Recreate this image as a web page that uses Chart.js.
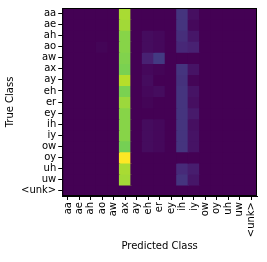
<!DOCTYPE html>
<html>
<head>
<meta charset="utf-8">
<script src="https://cdn.jsdelivr.net/npm/chart.js@4"></script>
<style>
  html, body { margin: 0; padding: 0; background: #fff; }
  #wrap { width: 267px; height: 262px; }
</style>
</head>
<body>
<div id="wrap"><canvas id="chart"></canvas></div>
<script>
const classes = ["aa", "ae", "ah", "ao", "aw", "ax", "ay", "eh", "er", "ey", "ih", "iy", "ow", "oy", "uh", "uw", "<unk>"];

// row-normalised confusion values, one array per true class (columns = predicted class)
const rowAa  = [0, 0, 0, 0, 0, 0.87, 0, 0, 0, 0, 0.15, 0.04, 0, 0, 0, 0, 0];
const rowAe  = [0, 0, 0, 0, 0, 0.86, 0, 0, 0, 0, 0.15, 0.02, 0, 0, 0, 0, 0];
const rowAh  = [0, 0, 0, 0, 0, 0.82, 0, 0.03, 0.02, 0, 0.13, 0.06, 0, 0, 0, 0, 0];
const rowAo  = [0, 0, 0, 0.01, 0, 0.82, 0, 0.03, 0.02, 0, 0.11, 0.09, 0, 0, 0, 0, 0];
const rowAw  = [0, 0, 0, 0, 0, 0.81, 0, 0.09, 0.17, 0, 0, 0, 0, 0, 0, 0, 0];
const rowAx  = [0, 0, 0, 0, 0, 0.80, 0, 0.02, 0.01, 0, 0.15, 0.05, 0, 0, 0, 0, 0];
const rowAy  = [0, 0, 0, 0, 0, 0.89, 0, 0.03, 0, 0, 0.14, 0.01, 0, 0, 0, 0, 0];
const rowEh  = [0, 0, 0, 0, 0, 0.80, 0, 0.02, 0.03, 0, 0.15, 0.05, 0, 0, 0, 0, 0];
const rowEr  = [0, 0, 0, 0, 0, 0.85, 0, 0.01, 0, 0, 0.15, 0.04, 0, 0, 0, 0, 0];
const rowEy  = [0, 0, 0, 0, 0, 0.82, 0, 0, 0, 0, 0.15, 0.07, 0, 0, 0, 0, 0];
const rowIh  = [0, 0, 0, 0, 0, 0.82, 0, 0.03, 0.02, 0, 0.15, 0.04, 0, 0, 0, 0, 0];
const rowIy  = [0, 0, 0, 0, 0, 0.82, 0, 0.03, 0.02, 0, 0.15, 0.05, 0, 0, 0, 0, 0];
const rowOw  = [0, 0, 0, 0, 0, 0.79, 0, 0.03, 0.02, 0, 0.15, 0.05, 0, 0, 0, 0, 0];
const rowOy  = [0, 0, 0, 0, 0, 1.00, 0, 0, 0, 0, 0, 0, 0, 0, 0, 0, 0];
const rowUh  = [0, 0, 0, 0, 0, 0.87, 0, 0, 0, 0, 0.12, 0.08, 0, 0, 0, 0, 0];
const rowUw  = [0, 0, 0, 0, 0, 0.86, 0, 0, 0, 0, 0.15, 0.06, 0, 0, 0, 0, 0];
const rowUnk = [0, 0, 0, 0, 0, 0, 0, 0, 0, 0, 0, 0, 0, 0, 0, 0, 0];

const matrix = [rowAa, rowAe, rowAh, rowAo, rowAw, rowAx, rowAy, rowEh, rowEr, rowEy, rowIh, rowIy, rowOw, rowOy, rowUh, rowUw, rowUnk];

// viridis stops at 0, 0.1, ... 1
const viridis = ["#440154", "#482475", "#414487", "#355f8d", "#2a788e", "#21918c",
                 "#22a884", "#44bf70", "#7ad151", "#bddf26", "#fde725"];

function hex(c) {
  return [1, 3, 5].map(i => parseInt(c.slice(i, i + 2), 16));
}

function colour(v) {
  const t = Math.max(0, Math.min(1, v)) * 10;
  const i = Math.min(9, Math.floor(t));
  const f = t - i;
  const a = hex(viridis[i]), b = hex(viridis[i + 1]);
  const m = a.map((x, k) => Math.round(x + (b[k] - x) * f));
  return "rgb(" + m.join(",") + ")";
}

const datasets = matrix.map((row, r) => ({
  label: classes[r],
  data: row.map(() => 1),
  backgroundColor: row.map(v => colour(v)),
  borderWidth: 0,
  inflateAmount: 0.6,
  categoryPercentage: 1,
  barPercentage: 1,
  stack: "rows"
}));

const font = { family: "DejaVu Sans", size: 10 };

new Chart(document.getElementById("chart"), {
  type: "bar",
  data: { labels: classes, datasets: datasets },
  options: {
    responsive: true,
    maintainAspectRatio: false,
    animation: false,
    layout: { padding: { top: -2, right: 10, left: 4, bottom: 10 } },
    plugins: { legend: { display: false }, tooltip: { enabled: false } },
    scales: {
      x: {
        stacked: true,
        afterFit: axis => { axis.height = 56; },
        grid: { display: true, drawOnChartArea: false, drawTicks: true, tickLength: 4, color: "#000", offset: false },
        border: { display: true, color: "#000", width: 1 },
        ticks: { color: "#000", font: font, minRotation: 90, maxRotation: 90, padding: 2, autoSkip: false },
        title: { display: true, text: "Predicted Class", color: "#000", font: font, padding: { top: 4, bottom: 0 } }
      },
      y: {
        stacked: true,
        reverse: true,
        min: 0,
        max: classes.length,
        afterBuildTicks: axis => {
          axis.ticks = classes.map((c, i) => ({ value: i + 0.5 }));
        },
        grid: { display: true, drawOnChartArea: false, drawTicks: true, tickLength: 4, color: "#000" },
        border: { display: true, color: "#000", width: 1 },
        ticks: {
          color: "#000", font: font, padding: 2, autoSkip: false,
          callback: v => classes[Math.floor(v)]
        },
        title: { display: true, text: "True Class", color: "#000", font: font, padding: { top: 0, bottom: 3 } }
      }
    }
  },
  plugins: [{
    id: "frame",
    afterDraw(chart) {
      const a = chart.chartArea, ctx = chart.ctx;
      ctx.save();
      ctx.strokeStyle = "#000";
      ctx.lineWidth = 1;
      ctx.strokeRect(a.left + 0.5, a.top + 0.5, a.right - a.left - 1, a.bottom - a.top - 1);
      ctx.restore();
    }
  }]
});
</script>
</body>
</html>
